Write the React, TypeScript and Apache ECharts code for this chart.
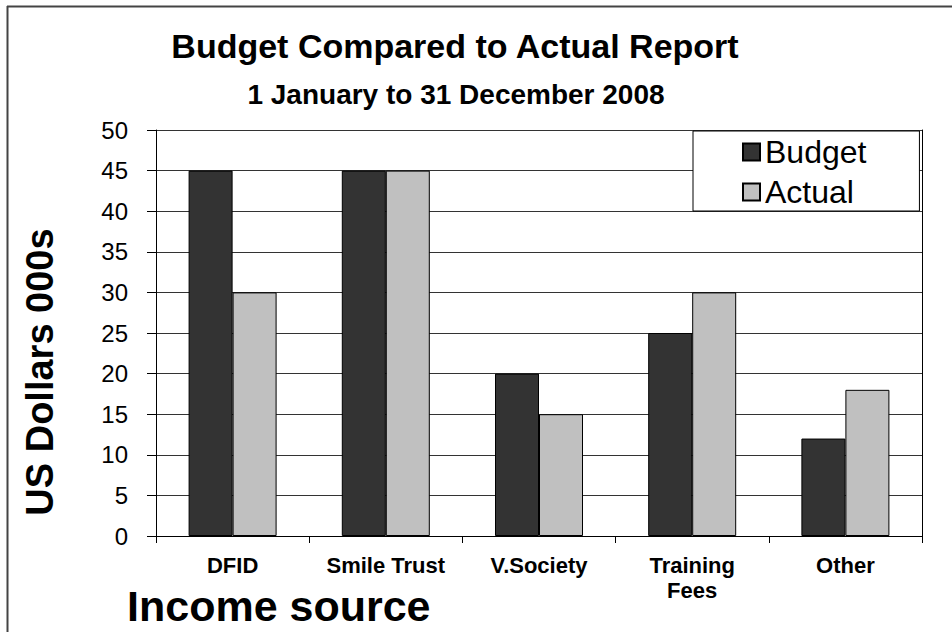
import React, { useEffect, useRef } from "react";
import * as echarts from "echarts";

const categories = ["DFID", "Smile Trust", "V.Society", "Training\nFees", "Other"];
const budgetValues = [45, 45, 20, 25, 12];
const actualValues = [30, 45, 15, 30, 18];
const seriesNames = ["Budget", "Actual"];
const titleText = "Budget Compared to Actual Report";
const subtitleText = "1 January to 31 December 2008";
const yAxisName = "US Dollars 000s";
const xAxisName = "Income source";

const FONT = "'Liberation Sans', Arial, sans-serif";

export default function App() {
  const ref = useRef<HTMLDivElement>(null);
  useEffect(() => {
    if (!ref.current) return;
    const chart = echarts.init(ref.current, null, { renderer: "svg" });
    chart.setOption({
      animation: false,
      backgroundColor: "#ffffff",
      textStyle: { fontFamily: FONT },
      title: [
        {
          text: titleText,
          left: 450,
          top: 24,
          textAlign: "center",
          textStyle: { fontFamily: FONT, fontSize: 34, fontWeight: "bold", color: "#000" },
        },
        {
          text: subtitleText,
          left: 451,
          top: 75,
          textAlign: "center",
          textStyle: { fontFamily: FONT, fontSize: 28, fontWeight: "bold", color: "#000" },
        },
      ],
      legend: {
        orient: "vertical",
        left: 693,
        top: 131,
        itemWidth: 17,
        itemHeight: 17,
        itemGap: 8,
        itemTextGap: 9,
        padding: [5, 53, 3, 49],
        borderColor: "#000",
        borderWidth: 1,
        backgroundColor: "#fff",
        icon: "rect",
        textStyle: { fontFamily: FONT, fontSize: 32, lineHeight: 30, color: "#000" },
        data: seriesNames,
      },
      grid: { left: 156, right: 30, top: 130, bottom: 96, containLabel: false },
      xAxis: {
        type: "category",
        data: categories,
        axisLine: { show: true, lineStyle: { color: "#000", width: 1 } },
        axisTick: { show: true, length: 7, alignWithLabel: false, lineStyle: { color: "#000" } },
        axisLabel: {
          fontFamily: FONT,
          fontSize: 22,
          fontWeight: "bold",
          color: "#000",
          margin: 17,
          lineHeight: 25,
          interval: 0,
        },
        splitLine: { show: false },
      },
      yAxis: [
        {
          type: "value",
          min: 0,
          max: 50,
          interval: 5,
          axisLine: { show: true, lineStyle: { color: "#000", width: 1 } },
          axisTick: { show: true, inside: false, length: 9, lineStyle: { color: "#000" } },
          axisLabel: { fontFamily: FONT, fontSize: 24, color: "#000", margin: 28 },
          splitLine: { show: true, lineStyle: { color: "#333", width: 1 } },
        },
        {
          type: "value",
          min: 0,
          max: 50,
          interval: 5,
          position: "right",
          axisLine: { show: true, lineStyle: { color: "#000", width: 1 } },
          axisTick: { show: false },
          axisLabel: { show: false },
          splitLine: { show: false },
        },
      ],
      series: [
        {
          name: seriesNames[0],
          type: "bar",
          data: budgetValues,
          barWidth: 44,
          barGap: "0%",
          itemStyle: { color: "#333333", borderColor: "#000", borderWidth: 1 },
        },
        {
          name: seriesNames[1],
          type: "bar",
          data: actualValues,
          barWidth: 44,
          barGap: "0%",
          itemStyle: { color: "#c0c0c0", borderColor: "#000", borderWidth: 1 },
        },
      ],
      graphic: [
        {
          type: "line",
          shape: { x1: 7, y1: 6.5, x2: 952, y2: 6.5 },
          style: { stroke: "#444", lineWidth: 2 },
        },
        {
          type: "line",
          shape: { x1: 7.5, y1: 6, x2: 7.5, y2: 632 },
          style: { stroke: "#444", lineWidth: 2 },
        },
        {
          type: "text",
          x: 40,
          y: 372,
          rotation: Math.PI / 2,
          style: {
            text: yAxisName,
            font: `bold 38px ${FONT}`,
            fill: "#000",
            align: "center",
            verticalAlign: "middle",
          },
        },
        {
          type: "text",
          x: 127,
          y: 606,
          style: {
            text: xAxisName,
            font: `bold 43px ${FONT}`,
            fill: "#000",
            align: "left",
            verticalAlign: "middle",
          },
        },
      ],
    });
    return () => chart.dispose();
  }, []);
  return (
    <div
      ref={ref}
      style={{ position: "absolute", left: 0, top: 0, width: 952, height: 632 }}
    />
  );
}
